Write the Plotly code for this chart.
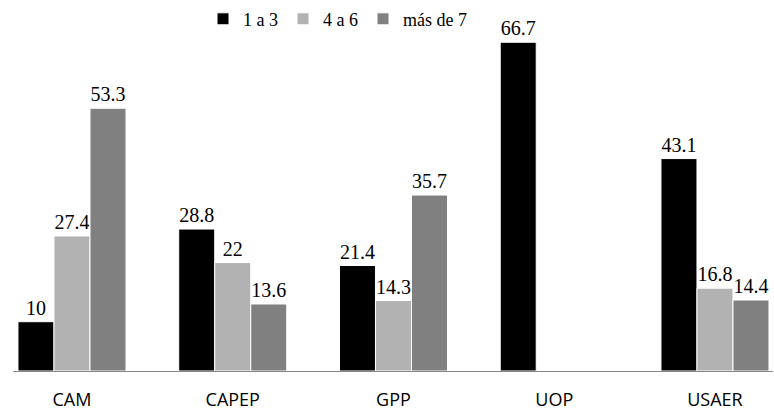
import plotly.graph_objects as go

categories = ["CAM", "CAPEP", "GPP", "UOP", "USAER"]
series_names = ["1 a 3", "4 a 6", "más de 7"]
s1 = [10, 28.8, 21.4, 66.7, 43.1]
s2 = [27.4, 22, 14.3, None, 16.8]
s3 = [53.3, 13.6, 35.7, None, 14.4]
colors = ["#000000", "#b2b2b2", "#808080"]

W, H = 774, 412
serif = "Liberation Serif, Times New Roman, serif"
fig = go.Figure()
for name, vals, col in zip(series_names, [s1, s2, s3], colors):
    fig.add_trace(go.Bar(
        x=list(range(len(categories))), y=vals, name=name,
        marker=dict(color=col, line=dict(color="white", width=1)),
        text=[("" if v is None else f"{v:g}") for v in vals],
        textposition="outside", constraintext="none", cliponaxis=False,
        textfont=dict(family=serif, size=20, color="#000000"),
        outsidetextfont=dict(family=serif, size=20, color="#000000"),
        hoverinfo="skip",
    ))

fig.update_layout(
    width=W, height=H,
    margin=dict(l=13, r=1, t=18, b=38),
    paper_bgcolor="white", plot_bgcolor="white",
    barmode="group", bargap=0.328, bargroupgap=0,
    showlegend=True,
    legend=dict(orientation="h", x=0.25, xanchor="left", y=1.02, yanchor="middle",
                font=dict(family=serif, size=18, color="#000000"),
                itemwidth=30,
                bgcolor="rgba(0,0,0,0)", traceorder="normal"),
    xaxis=dict(range=[-0.367, 4.361], tickmode="array",
               tickvals=list(range(len(categories))), ticktext=categories,
               showgrid=False, zeroline=False, showline=True, linecolor="#868686",
               linewidth=1, ticks="", ticklabelstandoff=12,
               tickfont=dict(family="Open Sans", size=18, color="#000000")),
    yaxis=dict(range=[0, 70], visible=False, showgrid=False, zeroline=False),
)
fig.write_html("out.html", config={"displayModeBar": False},
               post_script="document.body.style.margin='0';document.body.style.overflow='hidden';")
